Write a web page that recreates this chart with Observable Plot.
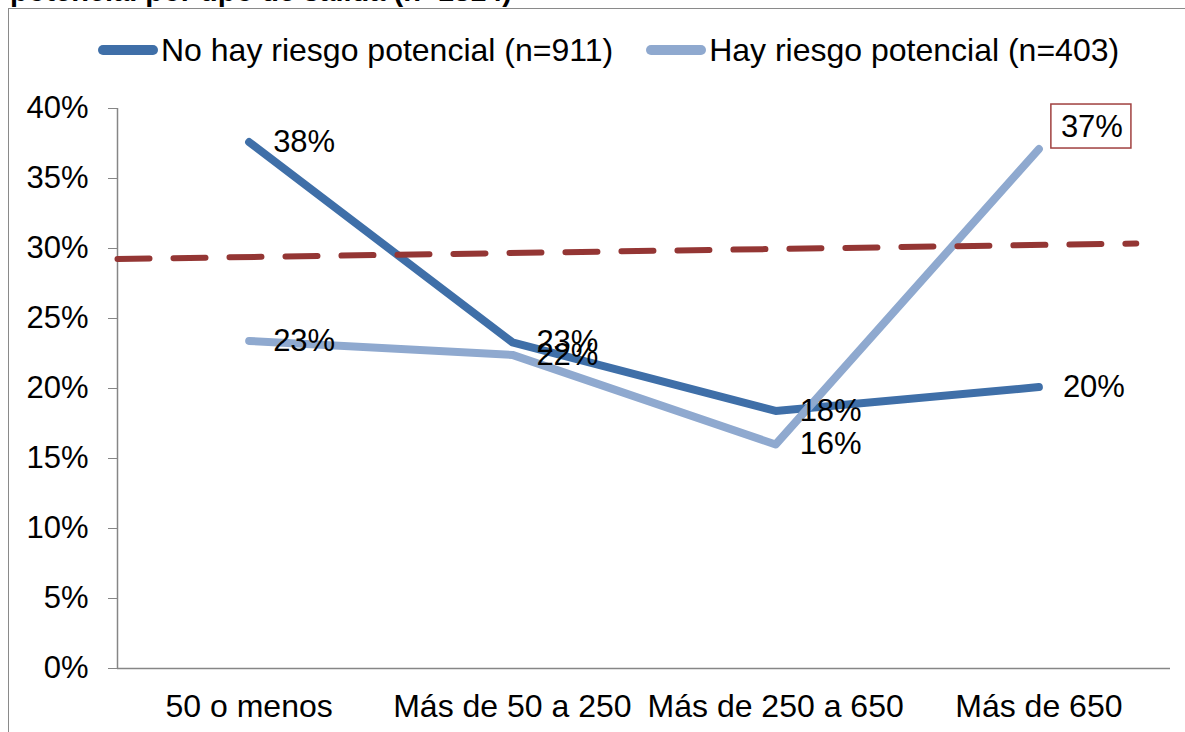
<!DOCTYPE html>
<html>
<head>
<meta charset="utf-8">
<script src="https://cdn.jsdelivr.net/npm/d3@7"></script>
<script src="https://cdn.jsdelivr.net/npm/@observablehq/plot@0.6"></script>
<style>
  body { margin: 0; background: #fff; }
  #wrap { position: relative; width: 1185px; height: 732px; overflow: hidden; font-family: "Liberation Sans", Arial, sans-serif; }
  #title { position: absolute; left: 10px; top: -23px; font-size: 29px; font-weight: bold; white-space: nowrap; line-height: 29px; color: #000; }
  #frame { position: absolute; left: 8px; top: 8px; width: 1400px; height: 1000px; border: 1.5px solid #8a8a8a; box-sizing: border-box; }
  #legend { position: absolute; left: 98px; top: 30px; height: 40px; display: flex; align-items: center; font-size: 32px; color: #000; white-space: nowrap; }
  .item { display: flex; align-items: center; margin-right: 33px; }
  .sw { display: inline-block; width: 60px; height: 10px; border-radius: 5px; margin-right: 3px; }
  #chart { position: absolute; left: 0; top: 0; }
</style>
</head>
<body>
<div id="wrap">
  <div id="frame"></div>
  <div id="title"></div>
  <div id="legend"></div>
  <div id="chart"></div>
</div>
<script>
const titleText = "potencial por tipo de salida (n=1314)";
const categories = ["50 o menos", "Más de 50 a 250", "Más de 250 a 650", "Más de 650"];
const seriesNames = ["No hay riesgo potencial (n=911)", "Hay riesgo potencial (n=403)"];
const noRiesgo = [37.6, 23.3, 18.4, 20.1];
const siRiesgo = [23.4, 22.4, 16.0, 37.1];
const trendX = [0, 3.87];
const trendY = [29.25, 30.36];
const yTicks = [0, 5, 10, 15, 20, 25, 30, 35, 40];
const colors = ["#3f6fa8", "#8fa9cf"];
const trendColor = "#943634";

document.getElementById("title").textContent = titleText;

const legend = document.getElementById("legend");
seriesNames.forEach((n, i) => {
  const it = document.createElement("div");
  it.className = "item";
  const sw = document.createElement("span");
  sw.className = "sw";
  sw.style.background = colors[i];
  const tx = document.createElement("span");
  tx.textContent = n;
  it.appendChild(sw); it.appendChild(tx);
  legend.appendChild(it);
});

const rows = [];
categories.forEach((c, i) => {
  rows.push({series: seriesNames[0], idx: i + 0.5, v: noRiesgo[i]});
});
categories.forEach((c, i) => {
  rows.push({series: seriesNames[1], idx: i + 0.5, v: siRiesgo[i]});
});
const trend = trendX.map((x, i) => ({x, y: trendY[i]}));
const fmt = v => Math.round(v) + "%";
const s1 = rows.filter(d => d.series === seriesNames[0]);
const s2 = rows.filter(d => d.series === seriesNames[1]);
const s2Last = s2.slice(-1);
const s2Rest = s2.slice(0, -1);

const plot = Plot.plot({
  width: 1185,
  height: 732,
  marginLeft: 117,
  marginRight: 15,
  marginTop: 108,
  marginBottom: 64,
  style: {fontFamily: "Liberation Sans, Arial, sans-serif", fontSize: "31px", color: "#000", background: "transparent", overflow: "visible"},
  x: {type: "linear", domain: [0, 4]},
  y: {domain: [0, 40]},
  marks: [
    Plot.axisY({ticks: yTicks, tickFormat: d => d + "%", tickSize: 9, tickPadding: 20, stroke: "#868686", fontSize: 31, fill: "#000", label: null}),
    Plot.axisX({ticks: categories.map((c, i) => i + 0.5), tickFormat: d => categories[Math.round(d - 0.5)], tickSize: 0, tickPadding: 26, fontSize: 32, fill: "#000", label: null}),
    Plot.ruleX([0], {y1: 0, y2: 40, stroke: "#868686", strokeWidth: 1.5}),
    Plot.ruleY([0], {stroke: "#868686", strokeWidth: 1.5}),
    Plot.line(s1, {x: "idx", y: "v", stroke: colors[0], strokeWidth: 8, strokeLinecap: "round", strokeLinejoin: "round"}),
    Plot.line(s2, {x: "idx", y: "v", stroke: colors[1], strokeWidth: 8, strokeLinecap: "round", strokeLinejoin: "round"}),
    Plot.line(trend, {x: "x", y: "y", stroke: trendColor, strokeWidth: 6, strokeDasharray: "32,24"}),
    Plot.text(s1, {x: "idx", y: "v", text: d => fmt(d.v), dx: 24, textAnchor: "start", fontSize: 31, fill: "#000"}),
    Plot.text(s2Rest, {x: "idx", y: "v", text: d => fmt(d.v), dx: 24, textAnchor: "start", fontSize: 31, fill: "#000"}),
    Plot.text(s2Last, {x: "idx", y: "v", text: d => fmt(d.v), dx: 22, dy: -22, textAnchor: "start", fontSize: 31, fill: "#000", className: "boxed"})
  ]
});
document.getElementById("chart").appendChild(plot);

// box around the highlighted label
document.querySelectorAll(".boxed text").forEach(t => {
  const b = t.getBBox();
  const ns = "http://www.w3.org/2000/svg";
  const r = document.createElementNS(ns, "rect");
  r.setAttribute("x", b.x - 10);
  r.setAttribute("y", b.y - 5);
  r.setAttribute("width", b.width + 18);
  r.setAttribute("height", b.height + 9);
  r.setAttribute("fill", "#fff");
  r.setAttribute("stroke", "#a0403f");
  r.setAttribute("stroke-width", 1.5);
  const tr = t.getAttribute("transform");
  if (tr) r.setAttribute("transform", tr);
  t.parentNode.insertBefore(r, t);
});
</script>
</body>
</html>
